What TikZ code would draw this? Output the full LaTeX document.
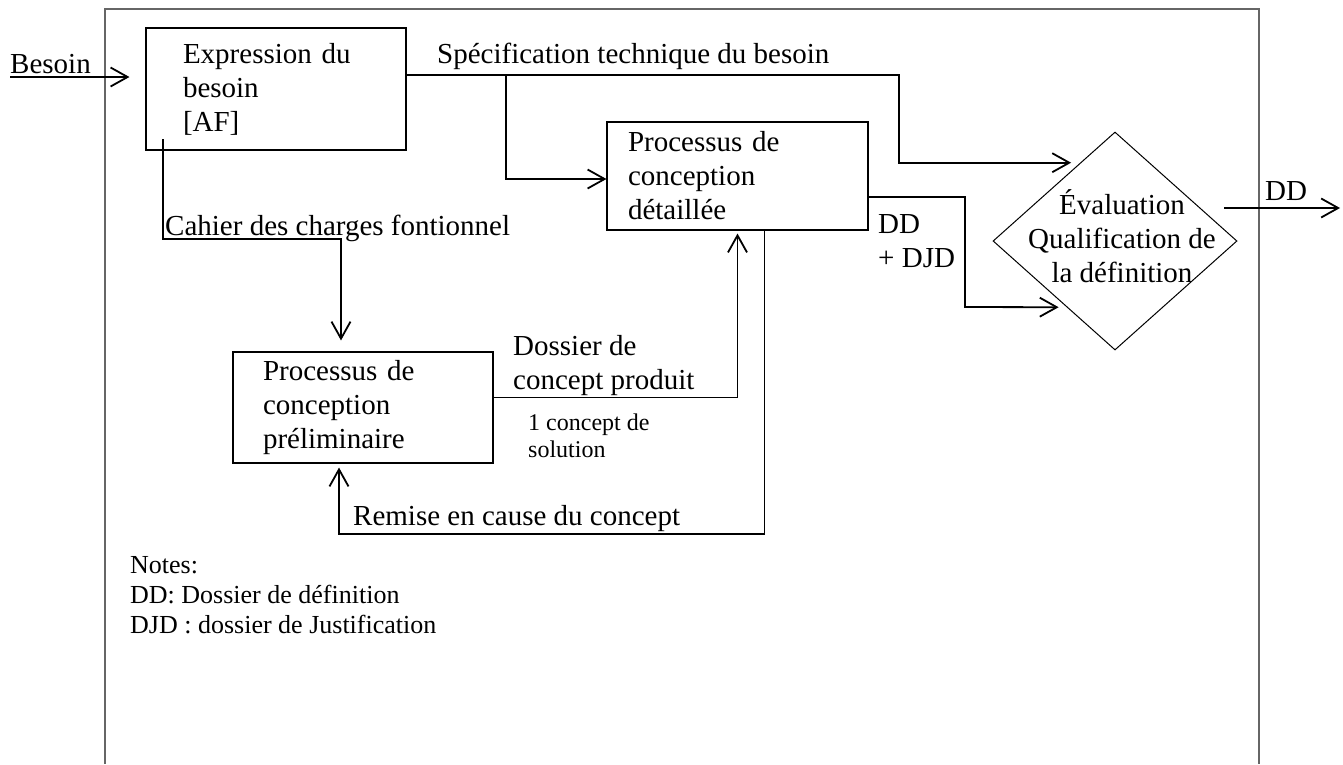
\documentclass[tikz,border=0pt]{standalone}
\usepackage{fontspec}
\setmainfont{Liberation Serif}
\usetikzlibrary{arrows.meta,shapes.geometric,calc}
\newcommand{\bigtext}{\fontsize{29}{34}\selectfont}
\newcommand{\smalltext}{\fontsize{24}{27}\selectfont}
\newcommand{\notetext}{\fontsize{26}{30}\selectfont}

\begin{document}
\begin{tikzpicture}[x=1pt,y=-1pt,
    procbox/.style={draw,line width=1.1pt,font=\bigtext,align=left,
        inner sep=0pt},
    txt/.style={font=\bigtext,inner sep=0pt,align=left},
    flow/.style={-{Straight Barb[length=17pt,width=19pt]},line width=1.8pt}]
    \useasboundingbox (0,0) rectangle (1343,764);
    \draw[line width=1.5pt,black!60] (105,764) -- (105,9) -- (1259,9) -- (1259,764);

    \node[procbox,minimum width=260pt,minimum height=122pt,text width=186pt]
        (besoin) at (276,89) {Expression du\\besoin\\{}[AF]};
    \node[procbox,minimum width=261pt,minimum height=108pt,text width=219pt]
        (detail) at (737.5,176) {Processus de\\conception\\détaillée};
    \node[procbox,minimum width=260pt,minimum height=111pt,text width=200pt]
        (prelim) at (363,407.5) {Processus de\\conception\\préliminaire};
    \node[draw,diamond,line width=1pt,minimum width=244pt,minimum height=218pt,
        inner sep=0pt] (eval) at (1115,241) {};
    \node[txt,align=center] (evaltxt) at (1122,236)
        {Évaluation\\Qualification de\\la définition};

    % labels
    \node[txt,anchor=base west] (besointxt) at (10,73) {Besoin};
    \node[txt,anchor=base west] (spectxt) at (437,63) {Spécification technique du besoin};
    \node[txt,anchor=base west] (cdctxt) at (165,235) {Cahier des charges fontionnel};
    \node[txt,anchor=north west] (dossiertxt) at (513,335) {Dossier de\\concept produit};
    \node[font=\smalltext,inner sep=0pt,align=left,anchor=north west]
        (solutiontxt) at (528,414) {1 concept de\\solution};
    \node[txt,anchor=base west] (remisetxt) at (353,525) {Remise en cause du concept};
    \node[txt,anchor=north west] (ddjdtxt) at (878,214) {DD\\+ DJD};
    \node[txt,anchor=base west] (ddouttxt) at (1265,200) {DD};
    \node[font=\notetext,inner sep=0pt,align=left,anchor=north west]
        (notes) at (130,556) {Notes:\\DD: Dossier de définition\\DJD : dossier de Justification};

    \coordinate (besoinsrc) at (10,77);
    \coordinate (besointip) at ([xshift=-16pt]besoin.west);
    \coordinate (specsplit) at (506,75);
    \coordinate (specbend) at (899,75);
    \coordinate (ddjdbend) at (965,307);
    \coordinate (evalout) at (1224,208);
    \coordinate (ddout) at (1340,208);
    \coordinate (cdcsrc) at (163,139);
    \coordinate (cdcbend) at (341,239);
    \coordinate (remisebend) at (339,534);

    \draw[flow] (besoinsrc) -- (besointip |- besoinsrc);
    \draw[flow,shorten >=9pt] ([yshift=14pt]besoin.east) -- (specbend)
        |- ($(eval.north)!.285!(eval.west)$);
    \draw[flow] (specsplit) |- ([yshift=-3pt]detail.west);
    \draw[flow,shorten >=8pt] ([yshift=-21pt]detail.east) -| (ddjdbend)
        -- ($(eval.west)!.605!(eval.south)$);
    \draw[flow] (evalout) -- (ddout);
    \draw[flow,shorten >=11pt] (cdcsrc) |- (cdcbend) -- (cdcbend |- prelim.north);
    \draw[flow,shorten >=3pt] ([yshift=10pt]prelim.east) -| (detail.south);
    \draw[flow,shorten >=4pt] ([xshift=27pt]detail.south) |- (remisebend)
        -- (remisebend |- prelim.south);

\end{tikzpicture}
\end{document}
